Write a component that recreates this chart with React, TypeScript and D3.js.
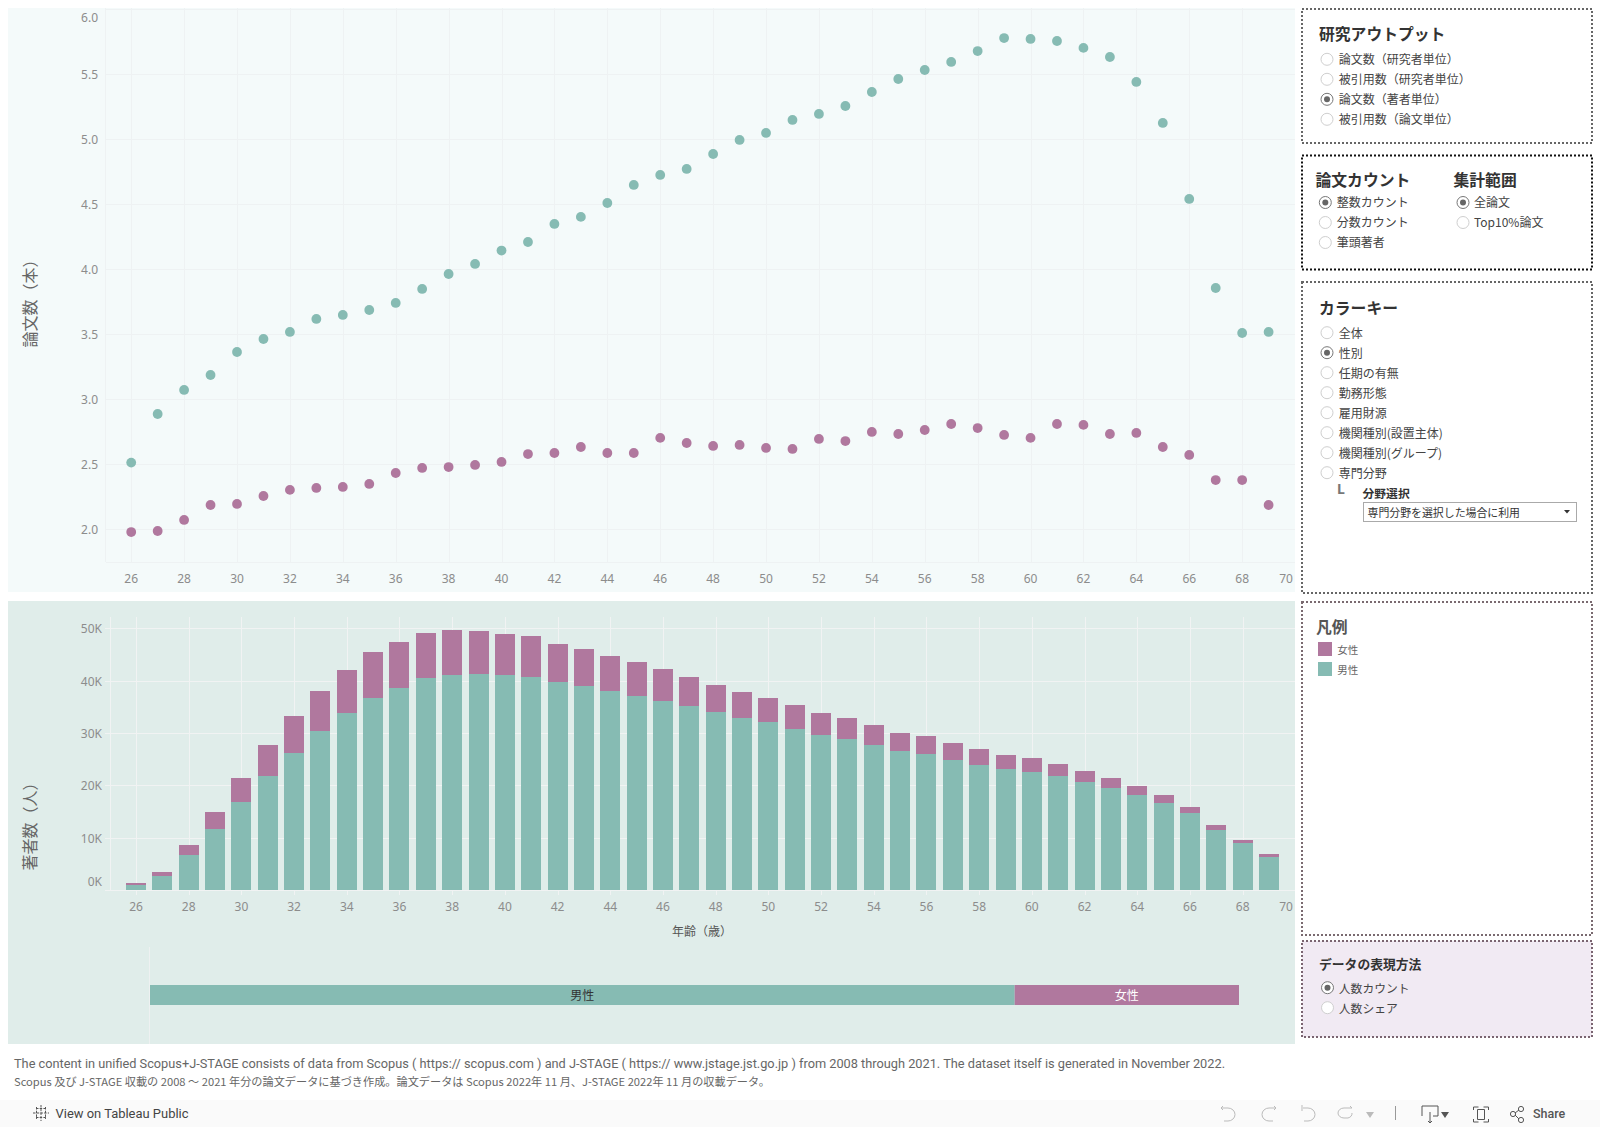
import React from "react";
import * as d3 from "d3";

const ages = d3.range(26, 70);
const maleOutput = [2.513,2.887,3.072,3.187,3.364,3.464,3.518,3.618,3.649,3.687,3.741,3.849,3.964,4.041,4.144,4.21,4.349,4.403,4.51,4.649,4.726,4.772,4.887,4.995,5.049,5.149,5.195,5.256,5.364,5.464,5.533,5.595,5.679,5.779,5.772,5.756,5.703,5.633,5.441,5.126,4.541,3.856,3.51,3.518];
const femaleOutput = [1.979,1.987,2.072,2.187,2.195,2.256,2.303,2.318,2.326,2.349,2.433,2.472,2.479,2.495,2.518,2.579,2.587,2.633,2.587,2.587,2.703,2.664,2.641,2.649,2.626,2.618,2.695,2.679,2.749,2.733,2.764,2.81,2.779,2.726,2.703,2.81,2.803,2.733,2.741,2.633,2.572,2.379,2.379,2.187];
const maleAuthors = [0.96,2.67,6.69,11.66,16.82,21.78,26.18,30.38,33.82,36.75,38.6,40.5,41.08,41.3,41.08,40.7,39.75,38.98,38.03,37.07,36.11,35.16,34.01,32.87,32.1,30.76,29.62,28.85,27.71,26.56,25.99,24.84,23.89,23.12,22.55,21.78,20.64,19.49,18.15,16.62,14.71,11.46,8.98,6.31];
const femaleAuthors = [0.38,0.76,1.91,3.25,4.59,5.92,7.07,7.64,8.22,8.73,8.79,8.6,8.6,8.15,7.84,7.84,7.25,7.07,6.68,6.5,6.12,5.54,5.16,4.96,4.59,4.59,4.2,4.02,3.82,3.44,3.44,3.25,3.05,2.68,2.67,2.3,2.1,1.91,1.72,1.53,1.15,0.96,0.57,0.57];
const outputTicks = [2, 2.5, 3, 3.5, 4, 4.5, 5, 5.5, 6];
const authorTicks = [0, 10, 20, 30, 40, 50];
const ageTicks = d3.range(26, 71, 2);
const genderShare = [{ key: "男性", share: 0.794 }, { key: "女性", share: 0.206 }];

const outputOptions = ["論文数（研究者単位）", "被引用数（研究者単位）", "論文数（著者単位）", "被引用数（論文単位）"];
const countOptions = ["整数カウント", "分数カウント", "筆頭著者"];
const rangeOptions = ["全論文", "Top10%論文"];
const colorOptions = ["全体", "性別", "任期の有無", "勤務形態", "雇用財源", "機関種別(設置主体)", "機関種別(グループ)", "専門分野"];
const displayOptions = ["人数カウント", "人数シェア"];

const MALE = "#86bbb3";
const FEMALE = "#b0789e";
const JP = "'Noto Sans CJK JP','Noto Sans',sans-serif";
const TICK = "'Noto Sans','Noto Sans CJK JP',sans-serif";

function RadioGroup({ options, selected, cx, y0, tx, size = 12 }: any) {
  return (
    <g>
      {options.map((o: string, i: number) => (
        <g key={o}>
          <circle cx={cx} cy={y0 + i * 20} r={6} fill="#fff" stroke={i === selected ? "#777" : "#cfcfcf"} strokeWidth={1} />
          {i === selected && <circle cx={cx} cy={y0 + i * 20} r={3} fill="#666" />}
          <text x={tx} y={y0 + i * 20 - 0.7} dominantBaseline="central" fontSize={size} fill="#444" fontFamily={JP}>{o}</text>
        </g>
      ))}
    </g>
  );
}

function Title({ x, y, size = 15.8, children, fill = "#333" }: any) {
  return <text x={x} y={y} dominantBaseline="central" fontSize={size} fontWeight={700} fill={fill} fontFamily={JP}>{children}</text>;
}

function Panel({ y, h, stroke, fill = "#fff", width = 2 }: any) {
  return <rect x={1302} y={y} width={290} height={h} fill={fill} stroke={stroke} strokeWidth={width} strokeDasharray="2 2" />;
}

export default function App() {
  const xTop = d3.scaleLinear().domain([26, 69]).range([131.2, 1268.6]);
  const yTop = d3.scaleLinear().domain([2, 6]).range([529.3, 9.3]);
  const xBot = d3.scaleLinear().domain([26, 69]).range([136, 1269]);
  const yBot = d3.scaleLinear().domain([0, 50]).range([890, 628.3]);
  const xGender = d3.scaleLinear().domain([0, 1]).range([150, 1239]);

  const rows = ages.map((a, i) => ({ age: a, male: maleAuthors[i], female: femaleAuthors[i] }));
  const stacked = d3.stack<any>().keys(["male", "female"])(rows);
  const genderStack = d3.cumsum(genderShare, (d) => d.share);

  return (
    <svg width={1600} height={1127} style={{ position: "absolute", left: 0, top: 0, display: "block" }}>
      <rect width={1600} height={1127} fill="#fff" />

      {/* top panel */}
      <rect x={8} y={8} width={1287} height={584} fill="#f4fafa" />
      <g stroke="#eef2f3" strokeWidth={1}>
        {outputTicks.map((t) => <line key={t} x1={106} x2={1295} y1={Math.round(yTop(t)) + 0.5} y2={Math.round(yTop(t)) + 0.5} />)}
        {ageTicks.slice(0, -1).map((t) => <line key={t} x1={Math.round(xTop(t)) + 0.5} x2={Math.round(xTop(t)) + 0.5} y1={8} y2={562} />)}
        <line x1={105.5} x2={105.5} y1={8} y2={562} />
        <line x1={106} x2={1295} y1={562.5} y2={562.5} />
      </g>
      {outputTicks.map((t) => (
        <text key={t} x={98} y={t === 6 ? 17.5 : yTop(t)} dominantBaseline="central" textAnchor="end" fontSize={12} fill="#8c8c8c" fontFamily={TICK}>{t.toFixed(1)}</text>
      ))}
      {ageTicks.map((t) => (
        <text key={t} x={t === 70 ? 1286 : xTop(t)} y={578.5} dominantBaseline="central" textAnchor="middle" fontSize={12} fill="#8c8c8c" fontFamily={TICK}>{t}</text>
      ))}
      <text transform="translate(29,299.5) rotate(-90)" dominantBaseline="central" textAnchor="middle" fontSize={16} fill="#666" fontFamily={JP}>論文数（本）</text>
      {ages.map((a, i) => <circle key={a} cx={xTop(a)} cy={yTop(maleOutput[i])} r={4.9} fill={MALE} />)}
      {ages.map((a, i) => <circle key={a} cx={xTop(a)} cy={yTop(femaleOutput[i])} r={4.9} fill={FEMALE} />)}

      {/* bottom panel */}
      <rect x={8} y={601} width={1287} height={443} fill="#e0edea" />
      <g stroke="#f1f3f3" strokeWidth={1}>
        {authorTicks.map((t) => <line key={t} x1={105} x2={1295} y1={Math.round(yBot(t)) + 0.5} y2={Math.round(yBot(t)) + 0.5} />)}
        {ageTicks.slice(0, -1).map((t) => <line key={t} x1={Math.round(xBot(t)) + 0.5} x2={Math.round(xBot(t)) + 0.5} y1={617} y2={895} />)}
        <line x1={110.5} x2={110.5} y1={617} y2={890} />
      </g>
      {stacked.map((s, si) => (
        <g key={s.key} fill={si === 0 ? MALE : FEMALE} shapeRendering="crispEdges">
          {s.map((d: any) => (
            <rect key={d.data.age} x={Math.round(xBot(d.data.age) - 10)} width={20} y={yBot(d[1])} height={yBot(d[0]) - yBot(d[1])} />
          ))}
        </g>
      ))}
      {authorTicks.map((t) => (
        <text key={t} x={102} y={t === 0 ? 881 : yBot(t) + 0.5} dominantBaseline="central" textAnchor="end" fontSize={12} fill="#8c8c8c" fontFamily={TICK}>{t}K</text>
      ))}
      {ageTicks.map((t) => (
        <text key={t} x={t === 70 ? 1286 : xBot(t)} y={906.5} dominantBaseline="central" textAnchor="middle" fontSize={12} fill="#8c8c8c" fontFamily={TICK}>{t}</text>
      ))}
      <text transform="translate(29,822.5) rotate(-90)" dominantBaseline="central" textAnchor="middle" fontSize={16} fill="#666" fontFamily={JP}>著者数（人）</text>
      <text x={702} y={930.5} dominantBaseline="central" textAnchor="middle" fontSize={12} fill="#555" fontFamily={JP}>年齢（歳）</text>

      {/* gender share bar */}
      <line x1={149.5} x2={149.5} y1={947} y2={1044} stroke="#eef1f1" />
      {genderShare.map((g, i) => {
        const a = xGender(i === 0 ? 0 : genderStack[i - 1]);
        const b = xGender(genderStack[i]);
        return (
          <g key={g.key}>
            <rect x={a} y={985} width={b - a} height={20} fill={i === 0 ? MALE : FEMALE} />
            <text x={(a + b) / 2} y={994.5} dominantBaseline="central" textAnchor="middle" fontSize={12} fill={i === 0 ? "#333" : "#fff"} fontFamily={JP}>{g.key}</text>
          </g>
        );
      })}

      {/* side panels */}
      <Panel y={9} h={134} stroke="#666" />
      <Title x={1319} y={33.5}>研究アウトプット</Title>
      <RadioGroup options={outputOptions} selected={2} cx={1327} y0={59.3} tx={1338.7} />

      <Panel y={155.5} h={114} stroke="#111" />
      <Title x={1315.5} y={179}>論文カウント</Title>
      <Title x={1453.5} y={179}>集計範囲</Title>
      <RadioGroup options={countOptions} selected={0} cx={1325.3} y0={202.5} tx={1336.7} />
      <RadioGroup options={rangeOptions} selected={0} cx={1463} y0={202.5} tx={1474} />

      <Panel y={282} h={311} stroke="#666" />
      <Title x={1319} y={307}>カラーキー</Title>
      <RadioGroup options={colorOptions} selected={1} cx={1327} y0={332.7} tx={1338.7} />
      <text x={1337} y={488.5} dominantBaseline="central" fontSize={14} fontWeight={700} fill="#777" fontFamily={TICK}>L</text>
      <Title x={1362.5} y={492} size={11.8}>分野選択</Title>
      <rect x={1363.5} y={502.5} width={213} height={19} fill="#fff" stroke="#aaa" />
      <text x={1367.5} y={511.5} dominantBaseline="central" fontSize={10.9} fill="#333" fontFamily={JP}>専門分野を選択した場合に利用</text>
      <path d={d3.line()([[1564, 510], [1570, 510], [1567, 513.5]])! + "Z"} fill="#333" />

      <Panel y={602} h={333} stroke="#7a6a70" />
      <Title x={1316} y={626.5} fill="#555">凡例</Title>
      {[["女性", FEMALE], ["男性", MALE]].map(([k, c], i) => (
        <g key={k}>
          <rect x={1318} y={642 + i * 20} width={14} height={14} fill={c} />
          <text x={1337.3} y={649.5 + i * 20} dominantBaseline="central" fontSize={10.5} fill="#666" fontFamily={JP}>{k}</text>
        </g>
      ))}

      <Panel y={941} h={96} stroke="#7a6470" fill="#f1eaf3" />
      <Title x={1319} y={963.5} size={12.8}>データの表現方法</Title>
      <RadioGroup options={displayOptions} selected={0} cx={1327.5} y0={987.7} tx={1338.8} size={11.8} />

      {/* footer */}
      <text x={14} y={1063.5} dominantBaseline="central" fontSize={12} fill="#666" fontFamily="Roboto,'Noto Sans',sans-serif" textLength={1211} lengthAdjust="spacingAndGlyphs">The content in unified Scopus+J-STAGE consists of data from Scopus ( https:// scopus.com ) and J-STAGE ( https:// www.jstage.jst.go.jp ) from 2008 through 2021. The dataset itself is generated in November 2022.</text>
      <text x={14} y={1080.5} dominantBaseline="central" fontSize={11} fill="#666" fontFamily={JP} textLength={756} lengthAdjust="spacingAndGlyphs">Scopus 及び J-STAGE 収載の 2008 ～ 2021 年分の論文データに基づき作成。論文データは Scopus 2022年 11 月、J-STAGE 2022年 11 月の収載データ。</text>

      {/* toolbar */}
      <rect x={0} y={1100} width={1600} height={27} fill="#fafafa" />
      <g stroke="#555" strokeWidth={1} fill="none">
        <path d="M41 1105v16M33 1113h16M36 1108.5h10M36 1117.5h10M36.5 1107v12M45.5 1107v12" strokeDasharray="2.5 1.2" />
      </g>
      <text x={55.5} y={1113.5} dominantBaseline="central" fontSize={12.5} fontWeight={400} fill="#444" fontFamily="Roboto,sans-serif" textLength={133} lengthAdjust="spacingAndGlyphs">View on Tableau Public</text>
      <g stroke="#bbb" strokeWidth={1} fill="none">
        <path d="M1221 1108h7a7 6.5 0 0 1 0 13h-4M1221 1108l2-2M1221 1108l2 2" />
        <path d="M1276 1108h-7a7 6.5 0 0 0 0 13h4M1276 1108l-2-2M1276 1108l-2 2" />
        <path d="M1303 1108h5a7 6.5 0 0 1 0 13h-4M1302 1105v6" />
        <path d="M1352 1108h-8a6 5 0 0 0 0 10h4a6 5 0 0 0 4-5M1352 1108l-2-2" />
        <line x1={1395.5} x2={1395.5} y1={1106} y2={1120} stroke="#999" />
      </g>
      <path d="M1366 1112h8l-4 6Z" fill="#bbb" />
      <g stroke="#555" strokeWidth={1} fill="none">
        <path d="M1422 1116v-10h16v10h-5M1430 1112v11M1428 1121l2 2 2-2" />
        <path d="M1473.5 1110v-3h5M1483.5 1107h5v3M1473.5 1119v3h5M1483.5 1122h5v-3M1477.5 1109.5h7v10h-7Z" />
        <circle cx={1513} cy={1114} r={2.6} />
        <circle cx={1521} cy={1109} r={2.6} />
        <circle cx={1521} cy={1120} r={2.6} />
        <path d="M1515 1113l4-3M1515 1115l4 4" />
      </g>
      <path d="M1441 1112h8l-4 6Z" fill="#555" />
      <text x={1533} y={1113.5} dominantBaseline="central" fontSize={12.5} fontWeight={500} fill="#555" fontFamily="Roboto,sans-serif">Share</text>
    </svg>
  );
}
